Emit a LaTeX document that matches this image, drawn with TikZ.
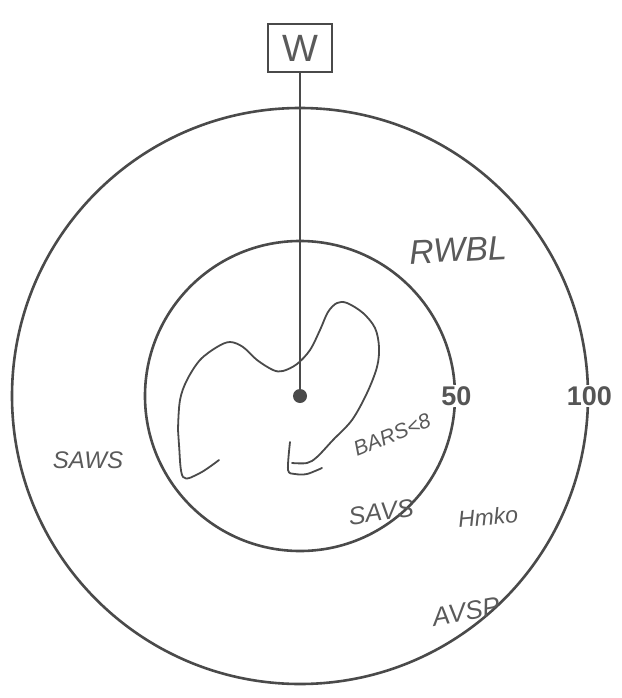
\documentclass[tikz,border=0pt]{standalone}
\usepackage{fontspec}
\setmainfont{Liberation Sans}
\definecolor{inkc}{HTML}{4A4A4A}
\definecolor{handc}{HTML}{5A5A5A}
\definecolor{numc}{HTML}{555555}
\begin{document}
\begin{tikzpicture}[x=1pt,y=-1pt,
  ring/.style={circle, draw=inkc, line width=2.6pt, inner sep=0pt},
  stem/.style={draw=inkc, line width=2.6pt},
  curve/.style={draw=inkc, line width=1.8pt, line cap=round, line join=round},
  hand/.style={text=handc, inner sep=0pt, font=\itshape\fontsize{#1}{#1}\selectfont},
  num/.style={text=numc, fill=white, inner sep=1pt, font=\bfseries\fontsize{27}{27}\selectfont},
  wbox/.style={draw=inkc, line width=2.4pt, minimum width=64pt, minimum height=48pt, inner sep=0pt,
    text=handc, font=\fontsize{38}{38}\selectfont}]
\useasboundingbox (0,0) rectangle (621,698);
\fill[white] (0,0) rectangle (621,698);
% rings
\coordinate (c) at (300,396);
\node[ring, minimum size=576pt] (outer) at (c) {};
\node[ring, minimum size=310pt] (inner) at (c) {};
% W box and stem
\node[wbox] (w) at (300,48) {W};
\draw[stem] (w.south) -- (c);
\fill[inkc] (c) circle[radius=7pt];
% hand-drawn contour
\draw[curve] plot[smooth, tension=0.55] coordinates {
 (219,460) (200,473) (183,477) (179,445) (178,430) (180,400) (187,380) (200,360)
 (217,347) (230,342) (243,347) (257,360) (273,370) (283,371) (297,364) (310,350)
 (320,330) (328,312) (337,303) (347,303) (363,313) (375,328) (379,347) (377,367)
 (367,393) (352,420) (333,440) (317,457) (307,463) (292,463)};
\draw[curve] plot[smooth, tension=0.5] coordinates {
 (290,442) (288,470) (295,474) (307,474) (322,468)};
% scale labels
\node[num] (n50) at (inner.east) {50};
\node[num] (n100) at (outer.east) {100};
% handwritten labels
\node[hand=34, rotate=3] (rwbl) at (458,250) {RWBL};
\node[hand=24] (saws) at (88,460) {SAWS};
\node[hand=21, rotate=22] (bars) at (392,435) {BARS<8};
\node[hand=25, rotate=8] (savs) at (381,512) {SAVS};
\node[hand=23, rotate=5] (hmko) at (488,517) {Hmko};
\node[hand=26, rotate=10] (avsp) at (466,612) {AVSP};
\end{tikzpicture}
\end{document}
